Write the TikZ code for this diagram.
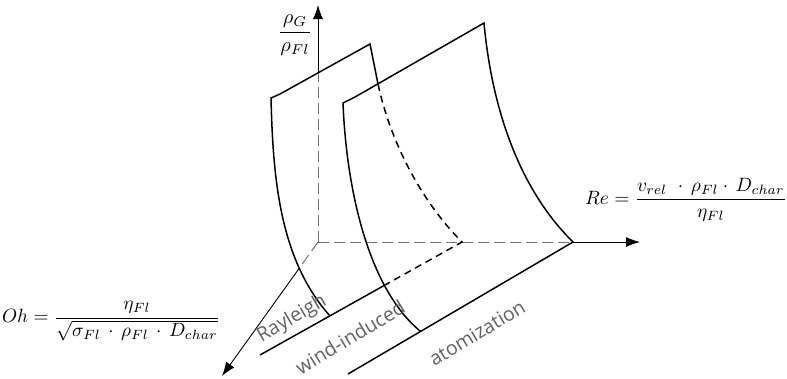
\documentclass[tikz,border=0pt]{standalone}
\usepackage{amsmath}
\usepackage{fontspec}
\newfontfamily\labelfont{Open Sans}
\usetikzlibrary{arrows.meta}
\begin{document}
\begin{tikzpicture}[x=1pt,y=-1pt,
  sheet/.style={line width=1.5pt, black},
  hidden/.style={line width=1.5pt, black, dash pattern=on 7pt off 5pt},
  axis/.style={line width=0.9pt, black},
  axhidden/.style={line width=1pt, black!55, dash pattern=on 11pt off 5pt},
  tip/.style={-{Latex[length=14pt,width=10pt]}},
  regime/.style={font=\labelfont\fontsize{19.5}{22}\selectfont, text=black!62, inner sep=0pt},
  formula/.style={inner sep=0pt, font=\fontsize{10}{12}\selectfont}]
\useasboundingbox (0,0) rectangle (787,378);
% axes
\coordinate (O) at (318,242);
\coordinate (ytip) at (318,5);
\coordinate (ycross) at (318,73);
\coordinate (xend) at (573,242);
\coordinate (xtip) at (640,242);
\coordinate (zcross) at (299.4,268);
\coordinate (ztip) at (222,376);
\draw[axhidden] (O) -- (ycross);
\draw[axis,tip] (ycross) -- (ytip);
\draw[axhidden] (O) -- (xend);
\draw[axis,tip] (xend) -- (xtip);
\draw[axhidden] (O) -- (zcross);
\draw[axis,tip] (zcross) -- (ztip);
% sheet 1 (Rayleigh / wind-induced boundary)
\coordinate (s1tl) at (271,98);
\coordinate (s1tk) at (280,94);
\coordinate (s1tr) at (370,44);
\coordinate (s1occ) at (378,84);
\coordinate (s1br) at (462,242);
\coordinate (s1bl) at (330,316);
\coordinate (l1a) at (260,355);
\coordinate (l1b) at (385,285);
\draw[sheet] (s1bl) .. controls (280,260) and (273,180) .. (s1tl) -- (s1tk) -- (s1tr) -- (s1occ);
\draw[hidden] (s1occ) .. controls (390,140) and (420,200) .. (s1br) -- (l1b);
\draw[sheet] (l1a) -- (l1b);
% sheet 2 (wind-induced / atomization boundary)
\coordinate (s2tl) at (343,103);
\coordinate (s2tk) at (355,97);
\coordinate (s2tr) at (484,23);
\coordinate (s2br) at (573,242);
\coordinate (s2bl) at (420,331);
\coordinate (l2a) at (348,374);
\draw[sheet] (s2bl) .. controls (365,285) and (346,180) .. (s2tl) -- (s2tk) -- (s2tr) .. controls (492,110) and (520,190) .. (s2br) -- (l2a);
% regime labels
\node[regime, rotate=30] (ray) at (292,319) {Rayleigh};
\node[regime, rotate=31] (wind) at (350,337) {wind-induced};
\node[regime, rotate=31] (atom) at (477,333) {atomization};
% formulas
\node[formula] (oh) at (111,321) {\scalebox{1.92}{$Oh = \dfrac{\eta_{Fl}}{\sqrt{\sigma_{Fl}\,\cdot\,\rho_{Fl}\,\cdot\,D_{char}}}$}};
\node[formula] (re) at (686,200) {\scalebox{1.93}{$Re = \dfrac{v_{rel}\,\,\cdot\,\rho_{Fl}\cdot\,D_{char}}{\eta_{Fl}}$}};
\node[formula] (rho) at (295,35) {\scalebox{2.03}{$\dfrac{\rho_G}{\rho_{Fl}}$}};
\end{tikzpicture}
\end{document}
